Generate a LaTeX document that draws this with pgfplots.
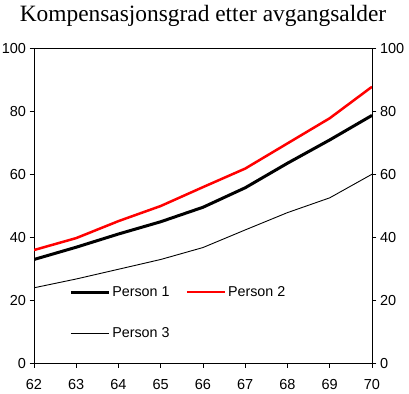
\documentclass[border=0pt]{standalone}
\usepackage{pgfplots}
\pgfplotsset{compat=1.18}
\usepackage{fontspec}
\setmainfont{Liberation Sans}
\newfontfamily\titlefont{Liberation Serif}
\definecolor{pred}{RGB}{255,0,0}
\begin{document}
\begin{tikzpicture}
\path[use as bounding box] (0,0) rectangle (409pt,393pt);
\begin{axis}[
  at={(34pt,29.7pt)}, anchor=south west,
  scale only axis, width=338pt, height=314.6pt,
  xmin=62, xmax=70, ymin=0, ymax=100,
  xtick={62,63,...,70}, ytick={0,20,...,100},
  xtick pos=bottom, ytick pos=left,
  tick align=outside, major tick length=4.5pt,
  axis line style={line width=0.9pt},
  every tick/.style={line width=0.9pt, black},
  tick label style={font=\fontsize{14.5}{16}\selectfont},
  xticklabel style={yshift=-8.5pt},
  /pgf/number format/assume math mode=true,
  /pgf/number format/1000 sep={},
  title={\titlefont\fontsize{23.4}{25}\selectfont Kompensasjonsgrad etter avgangsalder},
  title style={at={(0.5,1)}, anchor=base, yshift=21.2pt, inner sep=0pt},
  legend columns=2,
  legend cell align=left,
  legend style={draw=none, fill=none, at={(0.095,0.258)}, anchor=north west,
    font=\fontsize{14.3}{16}\selectfont,
    /tikz/every even column/.append style={column sep=14pt},
    row sep=26pt},
  legend image code/.code={\draw[#1] (0pt,0pt) -- (38pt,0pt);},
]
\addplot[black, line width=3pt] coordinates {(62,33.0) (63,36.9) (64,41.1) (65,45.0) (66,49.6) (67,55.8) (68,63.6) (69,71.0) (70,78.8)};
\addlegendentry{Person 1}
\addplot[pred, line width=2.5pt] coordinates {(62,36.0) (63,39.8) (64,45.2) (65,50.0) (66,56.0) (67,61.9) (68,69.9) (69,77.9) (70,87.9)};
\addlegendentry{Person 2}
\addplot[black, line width=0.9pt] coordinates {(62,24.0) (63,26.8) (64,29.9) (65,33.0) (66,36.8) (67,42.4) (68,47.9) (69,52.6) (70,60.1)};
\addlegendentry{Person 3}
\end{axis}
\begin{axis}[
  at={(34pt,29.7pt)}, anchor=south west,
  scale only axis, width=338pt, height=314.6pt,
  xmin=62, xmax=70, ymin=0, ymax=100,
  ytick={0,20,...,100},
  axis x line=none, axis y line*=right,
  tick align=outside, major tick length=4.5pt,
  axis line style={line width=0.9pt},
  every tick/.style={line width=0.9pt, black},
  tick label style={font=\fontsize{14.5}{16}\selectfont},
  /pgf/number format/assume math mode=true,
]
\end{axis}
\end{tikzpicture}
\end{document}
